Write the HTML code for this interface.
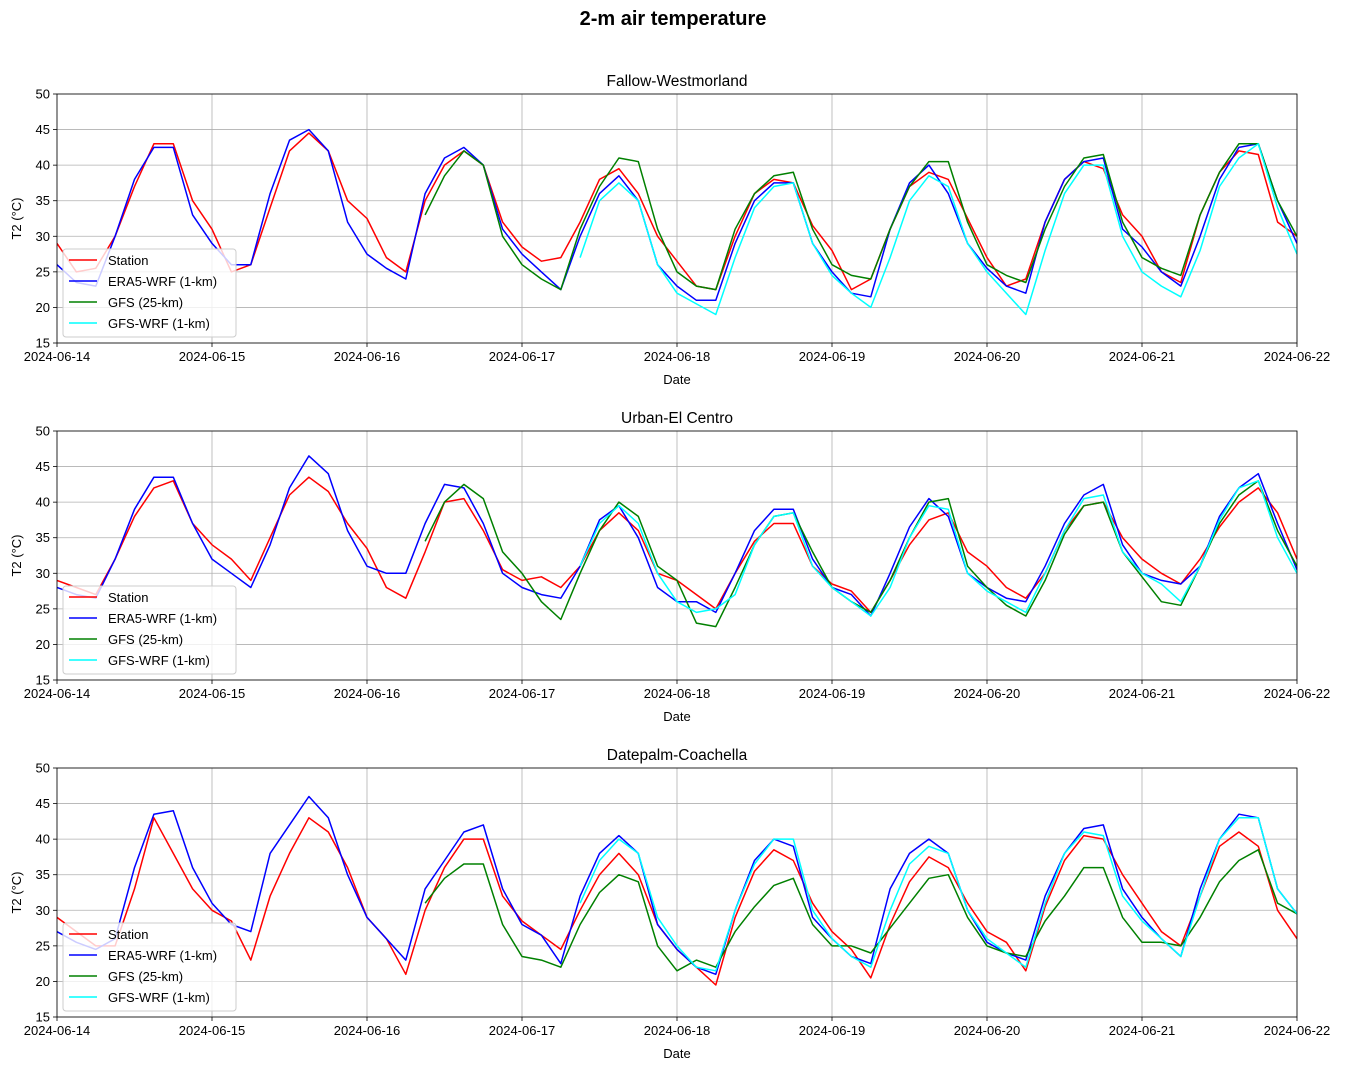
<!DOCTYPE html>
<html><head><meta charset="utf-8">
<style>
html,body{margin:0;padding:0;background:#fff;}
svg{display:block;font-family:"Liberation Sans","DejaVu Sans",sans-serif;}
</style></head>
<body>
<svg id="chart" width="1346" height="1071" viewBox="0 0 1346 1071" xmlns="http://www.w3.org/2000/svg">
<rect width="1346" height="1071" fill="#fff"/>
<text x="673" y="25" text-anchor="middle" font-size="20" font-weight="bold" fill="#000">2-m air temperature</text>
</svg>
<script>
// 3-hourly time steps, 0..192 h from 2024-06-14 00:00
const dateLabels = ["2024-06-14","2024-06-15","2024-06-16","2024-06-17","2024-06-18","2024-06-19","2024-06-20","2024-06-21","2024-06-22"];
const yTicks = [15,20,25,30,35,40,45,50];
const panelTitles = ["Fallow-Westmorland","Urban-El Centro","Datepalm-Coachella"];
const seriesNames = ["Station","ERA5-WRF (1-km)","GFS (25-km)","GFS-WRF (1-km)"];
const seriesColors = ["red","blue","green","cyan"];

const p1Station = [29,25,25.5,30,37,43,43,35,31,25,26,34,42,44.5,42,35,32.5,27,25,35,40,42,40,32,28.5,26.5,27,32,38,39.5,36,30,26.5,23,22.5,30,36,38,37.5,31.5,28,22.5,24,31,37,39,38,32.5,27,23,24,32,38,40.5,39.5,33,30,25,23.5,33,39,42,41.5,32,30];
const p1Era5 = [26,23.5,23,30,38,42.5,42.5,33,29,26,26,36,43.5,45,42,32,27.5,25.5,24,36,41,42.5,40,31,27.5,25,22.5,30,36,38.5,35,26,23,21,21,29,35,37.5,37.5,29,25,22,21.5,31,37.5,40,36,29,25.5,23,22,32,38,40.5,41,31,28.5,25,23,30,38,42.5,43,35,29];
const p1Gfs = [33,38.5,42,40,30,26,24,22.5,31,37,41,40.5,31,25,23,22.5,31,36,38.5,39,31,26,24.5,24,31,37,40.5,40.5,32,26,24.5,23.5,31,37,41,41.5,32,27,25.5,24.5,33,39,43,43,35,30];
const p1GfsWrf = [27,35,37.5,35,26,22,20.5,19,27,34,37,37.5,29,24.5,22,20,27,35,38.5,37,29,25,22,19,28,36,40,40,30,25,23,21.5,28,37,41,43,34,27.5];

const p2Station = [29,28,27,32,38,42,43,37,34,32,29,35,41,43.5,41.5,37,33.5,28,26.5,33,40,40.5,36,30.5,29,29.5,28,31,36,38.5,36,30,29,27,25,30,34.5,37,37,31,28.5,27.5,24.5,29,34,37.5,38.5,33,31,28,26.5,30,36,39.5,40,35,32,30,28.5,32,36.5,40,42,38.5,32];
const p2Era5 = [28,27,26.5,32,39,43.5,43.5,37,32,30,28,34,42,46.5,44,36,31,30,30,37,42.5,42,37,30,28,27,26.5,31,37.5,39.5,35,28,26,26,24.5,30,36,39,39,32,28,27,24,30,36.5,40.5,38,30,28,26.5,26,31,37,41,42.5,34,30,29,28.5,31,38,42,44,37,30.5];
const p2Gfs = [34.5,40,42.5,40.5,33,30,26,23.5,30,36,40,38,31,29,23,22.5,28,34,38,38.5,33,28,26,24.5,29,35,40,40.5,31,28,25.5,24,29,35.5,39.5,40,33,29.5,26,25.5,31,37,41,43,36,31];
const p2GfsWrf = [31,37,39.5,37,30,26,24.5,25,27,34,38,38.5,31,28,26,24,28,35,39.5,39,30,27.5,26,24.5,30,36,40.5,41,33,30,28.5,26,31,37.5,42,43,35,30];

const p3Station = [29,27,25,25,33,43,38,33,30,28.5,23,32,38,43,41,36,29,26,21,30,36,40,40,32,28.5,26.5,24.5,30,35,38,35,28,24.5,22,19.5,29,35.5,38.5,37,31,27,24.5,20.5,28,34,37.5,36,31,27,25.5,21.5,30.5,37,40.5,40,35,31,27,25,32,39,41,39,30,26];
const p3Era5 = [27,25.5,24.5,26,36,43.5,44,36,31,28,27,38,42,46,43,35,29,26,23,33,37,41,42,33,28,26.5,22.5,32,38,40.5,38,28,24.5,22,21,30,37,40,39,29,26,23.5,22.5,33,38,40,38,30,25.5,24,23,32,38,41.5,42,33,29,26,23.5,33,40,43.5,43,33,29.5];
const p3Gfs = [31,34.5,36.5,36.5,28,23.5,23,22,28,32.5,35,34,25,21.5,23,22,27,30.5,33.5,34.5,28,25,25,24,27.5,31,34.5,35,29,25,24,23.5,28.5,32,36,36,29,25.5,25.5,25,29,34,37,38.5,31,29.5];
const p3GfsWrf = [31,37,40,38,29,25,22,21.5,30,36.5,40,40,30,26,23.5,22,30,36.5,39,38,30,26,24,22,31,38,41,40.5,32,28.5,26,23.5,32,40,43,43,33,29.5];

const gfsStart = 19;    // first GFS step index (57 h)
const gfsWrfStart = 27; // first GFS-WRF step index (81 h)
const stepHours = 3;

const panels = [
  {top:94, series:[p1Station,p1Era5,p1Gfs,p1GfsWrf]},
  {top:431, series:[p2Station,p2Era5,p2Gfs,p2GfsWrf]},
  {top:768, series:[p3Station,p3Era5,p3Gfs,p3GfsWrf]}
];
const starts = [0,0,gfsStart,gfsWrfStart];

const NS = "http://www.w3.org/2000/svg";
const svg = document.getElementById('chart');
const X0 = 57, X1 = 1297, H = 249;
function mk(tag, attrs, parent){
  const e = document.createElementNS(NS, tag);
  for (const k in attrs) e.setAttribute(k, attrs[k]);
  (parent||svg).appendChild(e);
  return e;
}
function xScale(h){ return X0 + (h/192)*(X1-X0); }

panels.forEach((p, pi) => {
  const top = p.top, bot = top + H;
  const yScale = v => bot - (v-15)/35*H;
  const g = mk('g', {});
  
  

  // grid
  dateLabels.forEach((d, i) => {
    const x = xScale(i*24);
    const l = mk('line', {x1:x, x2:x, y1:top, y2:bot, stroke:'#b0b0b0', 'stroke-width':0.8}, g);
    
    
  });
  yTicks.forEach(v => {
    const y = yScale(v);
    const l = mk('line', {x1:X0, x2:X1, y1:y, y2:y, stroke:'#b0b0b0', 'stroke-width':0.8}, g);
    
    
  });

  // clip
  const cp = mk('clipPath', {id:'clip'+pi}, g);
  mk('rect', {x:X0, y:top, width:X1-X0, height:H}, cp);

  // series
  p.series.forEach((arr, si) => {
    const pts = arr.map((v, i) => xScale((starts[si]+i)*stepHours).toFixed(1) + ',' + yScale(v).toFixed(1)).join(' ');
    const pl = mk('polyline', {points:pts, fill:'none', stroke:seriesColors[si], 'stroke-width':1.5, 'stroke-linejoin':'round', 'clip-path':'url(#clip'+pi+')'}, g);
    
    
  });

  // axes frame
  const fr = mk('rect', {x:X0, y:top, width:X1-X0, height:H, fill:'none', stroke:'#000', 'stroke-width':0.8}, g);
  
  

  // ticks
  dateLabels.forEach((d, i) => {
    const x = xScale(i*24);
    mk('line', {x1:x, x2:x, y1:bot, y2:bot+4, stroke:'#000', 'stroke-width':0.8}, g);
    const t = mk('text', {x:x, y:bot+18, 'text-anchor':'middle', 'font-size':13, fill:'#000'}, g);
    t.textContent = d;
    
    
  });
  yTicks.forEach(v => {
    const y = yScale(v);
    mk('line', {x1:X0-4, x2:X0, y1:y, y2:y, stroke:'#000', 'stroke-width':0.8}, g);
    const t = mk('text', {x:X0-7, y:y+4.5, 'text-anchor':'end', 'font-size':13, fill:'#000'}, g);
    t.textContent = v;
    
    
  });

  const tt = mk('text', {x:(X0+X1)/2, y:top-8, 'text-anchor':'middle', 'font-size':15.5, fill:'#000'}, g);
  tt.textContent = panelTitles[pi];
  
  

  const xl = mk('text', {x:(X0+X1)/2, y:bot+41, 'text-anchor':'middle', 'font-size':13, fill:'#000'}, g);
  xl.textContent = 'Date';
  
  

  const yl = mk('text', {x:0, y:0, 'text-anchor':'middle', 'font-size':13, fill:'#000', transform:'translate(21,'+(top+H/2)+') rotate(-90)'}, g);
  yl.textContent = 'T2 (°C)';
  
  

  // legend
  const lg = mk('g', {}, g);
  
  
  mk('rect', {x:63, y:top+155, width:173, height:88, rx:3, fill:'#fff', 'fill-opacity':0.8, stroke:'#ccc', 'stroke-width':1}, lg);
  seriesNames.forEach((n, si) => {
    const y = top + 166 + si*21;
    mk('line', {x1:69, x2:97, y1:y, y2:y, stroke:seriesColors[si], 'stroke-width':1.5}, lg);
    const t = mk('text', {x:108, y:y+5, 'font-size':13, fill:'#000'}, lg);
    t.textContent = n;
    
    
  });
});
</script>
</body></html>
